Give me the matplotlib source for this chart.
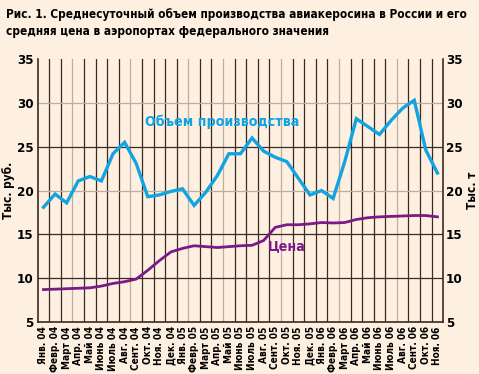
import matplotlib
matplotlib.use("Agg")
import matplotlib.pyplot as plt
from matplotlib import font_manager as fm

months = ["Янв. 04", "Февр. 04", "Март 04", "Апр. 04", "Май 04", "Июнь 04", "Июль 04",
          "Авг. 04", "Сент. 04", "Окт. 04", "Ноя. 04", "Дек. 04",
          "Янв. 05", "Февр. 05", "Март 05", "Апр. 05", "Май 05", "Июнь 05", "Июль 05",
          "Авг. 05", "Сент. 05", "Окт. 05", "Ноя. 05", "Дек. 05",
          "Янв. 06", "Февр. 06", "Март 06", "Апр. 06", "Май 06", "Июнь 06", "Июль 06",
          "Авг. 06", "Сент. 06", "Окт. 06", "Ноя. 06"]

volume = [18.1, 19.6, 18.6, 21.1, 21.6, 21.1, 24.2, 25.5, 23.1, 19.3, 19.5, 19.9,
          20.2, 18.3, 19.8, 21.7, 24.2, 24.2, 26.0, 24.5, 23.8, 23.3, 21.4, 19.5,
          20.0, 19.1, 23.3, 28.2, 27.3, 26.4, 28.0, 29.4, 30.3, 24.6, 22.0]

price = [8.7, 8.75, 8.8, 8.85, 8.9, 9.1, 9.4, 9.6, 9.9, 10.9, 12.0, 13.0,
         13.4, 13.7, 13.6, 13.5, 13.6, 13.7, 13.75, 14.3, 15.8, 16.1, 16.1, 16.2,
         16.35, 16.3, 16.35, 16.7, 16.9, 17.0, 17.05, 17.1, 17.15, 17.15, 17.0]

yticks = [5, 10, 15, 20, 25, 30, 35]

BG = "#fdf0e1"
DARK = "#3a2a22"
LIGHT = "#bcaea0"
BLUE = "#12a3e2"
PURPLE = "#7a1a88"

cond = [f for f in fm.fontManager.ttflist if "Condensed" in f.fname or "Narrow" in f.fname]
if cond:
    FONT = [cond[0].name, "DejaVu Sans"]
    STRETCH = "condensed"
    SC = 1.0
else:
    FONT = ["DejaVu Sans"]
    STRETCH = "normal"
    SC = 0.82

plt.rcParams["font.family"] = FONT
plt.rcParams["font.weight"] = "bold"
plt.rcParams["font.stretch"] = STRETCH

fig = plt.figure(figsize=(4.79, 3.74), dpi=100, facecolor=BG)
ax = fig.add_axes([0.0787, 0.139, 0.8466, 0.703], facecolor=BG)

n = len(months)
x = list(range(n))
ax.set_xlim(-0.5, n - 0.5)
ax.set_ylim(5, 35)

gray_v = {3, 8, 13, 16, 21, 26, 31}
for k in range(1, n):
    ax.axvline(k - 0.5, color=LIGHT if k in gray_v else DARK, lw=0.9, zorder=1)
for yv in [10, 15, 20, 25, 30]:
    ax.axhline(yv, color=LIGHT if yv in (20, 30) else DARK, lw=0.9, zorder=1)

ax.plot(x, volume, color=BLUE, lw=2.4, zorder=3, solid_joinstyle="miter")
ax.plot(x, price, color=PURPLE, lw=2.0, zorder=3)

ax.text(8.75, 27.8, "Объем производства", color=BLUE, fontsize=10.2 * SC, fontweight="bold",
        ha="left", va="center", zorder=4)
ax.text(19.35, 13.7, "Цена", color=PURPLE, fontsize=10.2 * SC, fontweight="bold",
        ha="left", va="center", zorder=4)

ax.set_xticks(x)
ax.set_xticklabels(months, rotation=90, fontsize=7.2 * SC, fontweight="bold")
ax.set_yticks(yticks)
ax.set_yticklabels([str(v) for v in yticks], fontsize=9.5 * SC, fontweight="bold")
ax.tick_params(axis="both", length=0, pad=3, colors="black")
ax.tick_params(axis="y", pad=3)

for s in ["left", "right", "bottom"]:
    ax.spines[s].set_color(DARK)
    ax.spines[s].set_linewidth(1.2)
ax.spines["top"].set_visible(False)

ax2 = ax.twinx()
ax2.set_ylim(5, 35)
ax2.set_yticks(yticks)
ax2.set_yticklabels([str(v) for v in yticks], fontsize=9.5 * SC, fontweight="bold")
ax2.tick_params(axis="y", length=0, pad=2)
for s in ax2.spines.values():
    s.set_visible(False)

ax.set_ylabel("Тыс. руб.", fontsize=8.5 * SC, fontweight="bold")
ax.yaxis.set_label_coords(-0.057, 0.5)
ax2.set_ylabel("Тыс. т", fontsize=8.5 * SC, fontweight="bold", rotation=90)
ax2.yaxis.set_label_coords(1.056, 0.5)

fig.text(0.012, 0.978, "Рис. 1. Среднесуточный объем производства авиакеросина в России и его\n"
         "средняя цена в аэропортах федерального значения",
         fontsize=8.5 * SC, fontweight="bold", ha="left", va="top",
         linespacing=1.35)

fig.savefig("out.png", dpi=100, facecolor=BG)
